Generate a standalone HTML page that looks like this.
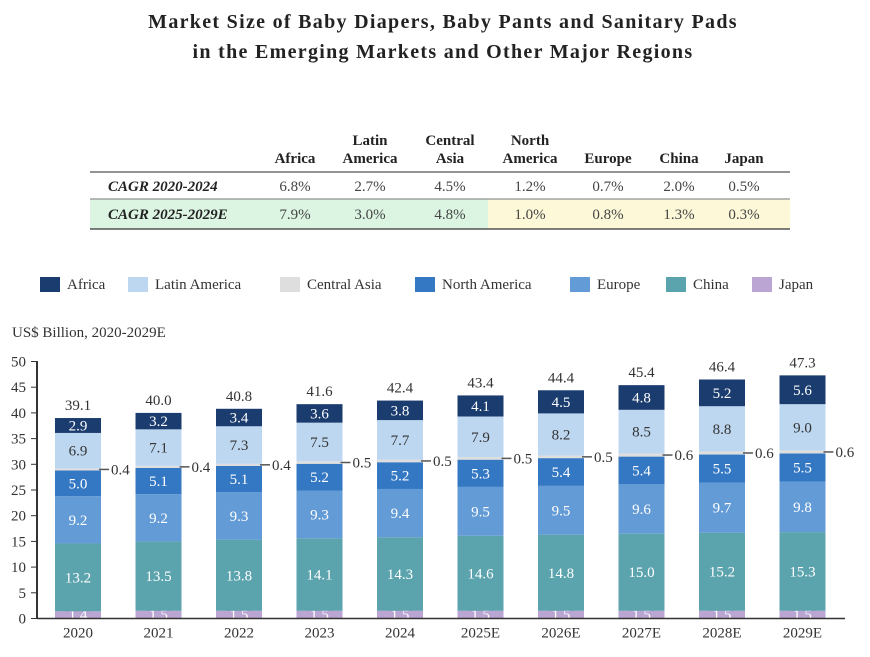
<!DOCTYPE html>
<html><head><meta charset="utf-8"><style>
body{margin:0;background:#fff;font-family:"Liberation Serif",serif;}
svg text{font-family:"Liberation Serif",serif;}
</style></head><body>
<svg width="870" height="652" viewBox="0 0 870 652">
<g font-weight="bold" font-size="20" fill="#222" text-anchor="middle" letter-spacing="1.3">
<text x="443" y="28">Market Size of Baby Diapers, Baby Pants and Sanitary Pads</text>
<text x="443" y="58">in the Emerging Markets and Other Major Regions</text>
</g>
<g font-size="15" fill="#222">
<rect x="90" y="199" width="398" height="30" fill="#dcf5e2"/>
<rect x="488" y="199" width="302" height="30" fill="#fdf9d8"/>
<line x1="90" x2="790" y1="172" y2="172" stroke="#555" stroke-width="1.2"/>
<line x1="90" x2="790" y1="199" y2="199" stroke="#777" stroke-width="1"/>
<line x1="90" x2="790" y1="229" y2="229" stroke="#333" stroke-width="1.2"/>
<g font-weight="bold" text-anchor="middle">
<text x="295" y="163">Africa</text>
<text x="370" y="145">Latin</text><text x="370" y="163">America</text>
<text x="450" y="145">Central</text><text x="450" y="163">Asia</text>
<text x="530" y="145">North</text><text x="530" y="163">America</text>
<text x="608" y="163">Europe</text>
<text x="679" y="163">China</text>
<text x="744" y="163">Japan</text>
</g>
<g font-weight="bold" font-style="italic"><text x="108" y="191">CAGR 2020-2024</text><text x="108" y="219">CAGR 2025-2029E</text></g>
<g text-anchor="middle" fill="#444">
<text x="295" y="191">6.8%</text><text x="370" y="191">2.7%</text><text x="450" y="191">4.5%</text><text x="530" y="191">1.2%</text><text x="608" y="191">0.7%</text><text x="679" y="191">2.0%</text><text x="744" y="191">0.5%</text>
<text x="295" y="219">7.9%</text><text x="370" y="219">3.0%</text><text x="450" y="219">4.8%</text><text x="530" y="219">1.0%</text><text x="608" y="219">0.8%</text><text x="679" y="219">1.3%</text><text x="744" y="219">0.3%</text>
</g>
</g>
<g id="legend" font-size="15" fill="#333"></g>
<text x="12" y="337" font-size="15" fill="#333">US$ Billion, 2020-2029E</text>
<g id="plot"></g>
</svg>
<script>
const categories=["2020","2021","2022","2023","2024","2025E","2026E","2027E","2028E","2029E"];
const seriesNames=["Japan","China","Europe","North America","Central Asia","Latin America","Africa"];
const japan=[1.4,1.5,1.5,1.5,1.5,1.5,1.5,1.5,1.5,1.5];
const china=[13.2,13.5,13.8,14.1,14.3,14.6,14.8,15.0,15.2,15.3];
const europe=[9.2,9.2,9.3,9.3,9.4,9.5,9.5,9.6,9.7,9.8];
const northAmerica=[5.0,5.1,5.1,5.2,5.2,5.3,5.4,5.4,5.5,5.5];
const centralAsia=[0.4,0.4,0.4,0.5,0.5,0.5,0.5,0.6,0.6,0.6];
const latinAmerica=[6.9,7.1,7.3,7.5,7.7,7.9,8.2,8.5,8.8,9.0];
const africa=[2.9,3.2,3.4,3.6,3.8,4.1,4.5,4.8,5.2,5.6];
const totals=[39.1,40.0,40.8,41.6,42.4,43.4,44.4,45.4,46.4,47.3];
const yTicks=[0,5,10,15,20,25,30,35,40,45,50];
const series=[japan,china,europe,northAmerica,centralAsia,latinAmerica,africa];
const colors=["#bba6d3","#5ba3ad","#639bd6","#3478c3","#dedede","#bdd7f0","#1b3c6e"];
const textCol=["#fff","#fff","#fff","#fff","#333","#333","#fff"];
const NS="http://www.w3.org/2000/svg";
const y0=618.5,pxPer=(618.5-361.5)/50;
const yS=v=>y0-v*pxPer;
const xC=i=>78+i*80.5;
const bw=46;
const plot=document.getElementById('plot');
function mk(tag,attrs,parent,txt){const e=document.createElementNS(NS,tag);for(const k in attrs)e.setAttribute(k,attrs[k]);if(txt!==undefined)e.textContent=txt;parent.appendChild(e);return e;}
let ax=mk('line',{x1:37,x2:37,y1:361,y2:y0,stroke:'#333','stroke-width':2},plot);


yTicks.forEach(t=>{
 mk('line',{x1:31,x2:37,y1:yS(t),y2:yS(t),stroke:'#333'},plot);
 let tx=mk('text',{x:26,y:yS(t)+5,'font-size':15,'text-anchor':'end',fill:'#333'},plot,String(t));
 
 
});
categories.forEach((c,i)=>{
 let cum=0;
 series.forEach((s,k)=>{
  const v=s[i];
  const r=mk('rect',{x:xC(i)-bw/2,y:yS(cum+v),width:bw,height:v*pxPer,fill:colors[k]},plot);
  
  
  const mid=yS(cum+v/2);
  if(k===4){
   mk('line',{x1:xC(i)+bw/2-2,x2:xC(i)+bw/2+8,y1:mid,y2:mid,stroke:'#555','stroke-width':1.5},plot);
   const l=mk('text',{x:xC(i)+bw/2+10,y:mid+5,'font-size':15,fill:'#333'},plot,v.toFixed(1));
   
   
  } else if(k===0){
   mk('rect',{x:xC(i)-13,y:y0-11,width:26,height:11,fill:colors[0]},plot);
   const l=mk('text',{x:xC(i),y:y0+1,'font-size':15,'text-anchor':'middle',fill:'#fff'},plot,v.toFixed(1));
   
   
  } else {
   const l=mk('text',{x:xC(i),y:mid+5,'font-size':15,'text-anchor':'middle',fill:textCol[k]},plot,v.toFixed(1));
   
   
  }
  cum+=v;
 });
 const t=mk('text',{x:xC(i),y:yS(cum)-8,'font-size':15,'text-anchor':'middle',fill:'#333'},plot,totals[i].toFixed(1));
 
 
 const xl=mk('text',{x:xC(i),y:y0+19,'font-size':15,'text-anchor':'middle',fill:'#333'},plot,c);
 
 
});
let bx=mk('line',{x1:37,x2:845,y1:y0,y2:y0,stroke:'#333','stroke-width':1.5},plot);


const leg=document.getElementById('legend');
const legNames=["Africa","Latin America","Central Asia","North America","Europe","China","Japan"];
const legCols=["#1b3c6e","#bdd7f0","#dedede","#3478c3","#639bd6","#5ba3ad","#bba6d3"];
const legX=[40,128,280,415,570,666,752];
legNames.forEach((n,i)=>{
 const g=mk('g',{},leg);
 
 
 mk('rect',{x:legX[i],y:277,width:20,height:15,fill:legCols[i]},g);
 mk('text',{x:legX[i]+27,y:289},g,n);
});
</script>
</body></html>
